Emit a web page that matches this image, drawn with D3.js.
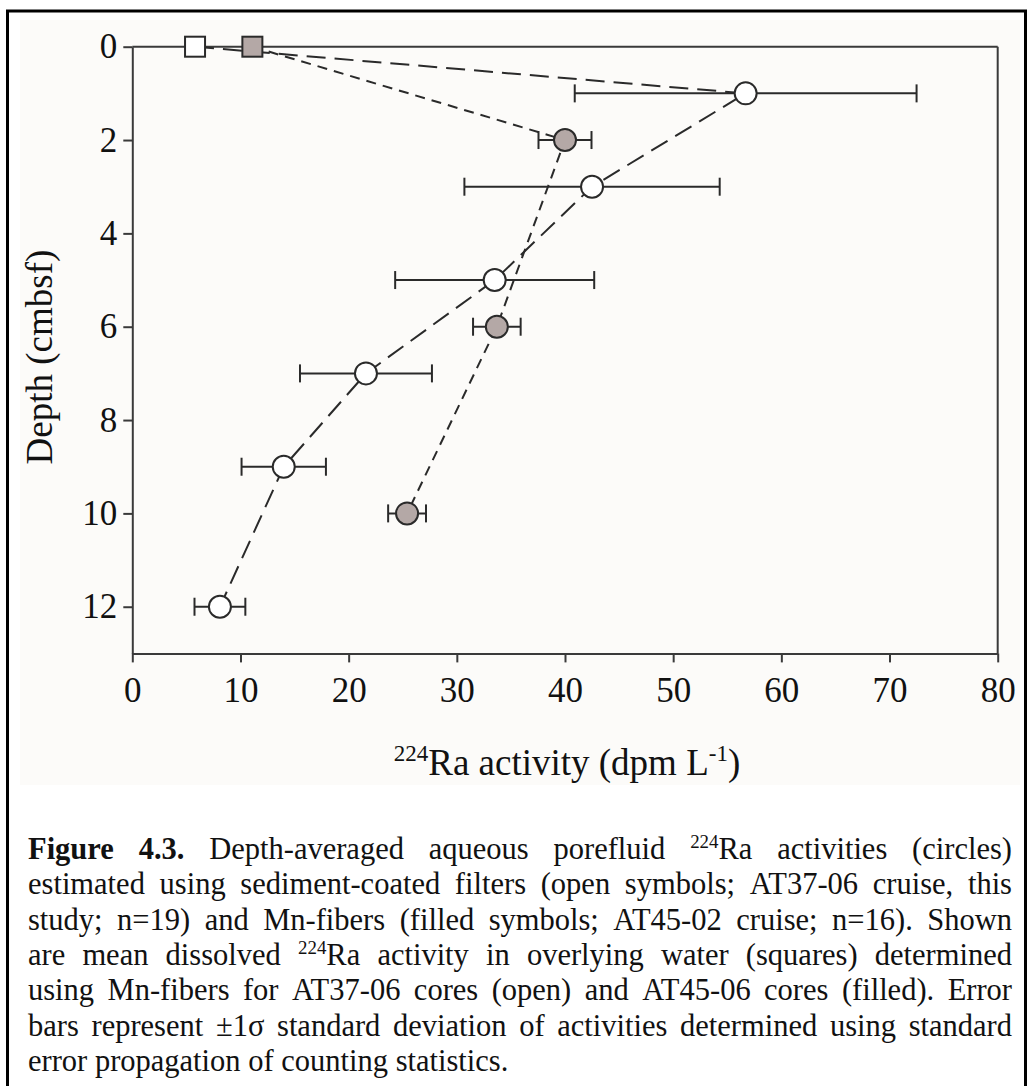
<!DOCTYPE html>
<html>
<head>
<meta charset="utf-8">
<script src="https://cdn.jsdelivr.net/npm/d3@7"></script>
<style>
  body { margin: 0; background: #fff; }
  svg { display: block; }
  text { font-family: "Liberation Serif", "Times New Roman", serif; fill: #111; }
</style>
</head>
<body>
<svg id="fig" width="1028" height="1086"></svg>
<script>
// Porefluid 224Ra activity profiles (dpm/L) against depth (cmbsf)
const openDepth = [1, 3, 5, 7, 9, 12];
const openActivity = [56.7, 42.5, 33.5, 21.6, 14.0, 8.1];
const openSigma = [15.8, 11.8, 9.2, 6.1, 3.9, 2.35];

const filledDepth = [2, 6, 10];
const filledActivity = [40.0, 33.7, 25.4];
const filledSigma = [2.45, 2.2, 1.75];

// Overlying-water means (plotted at depth 0 as squares)
const overlyingOpen = 5.8;
const overlyingFilled = 11.1;

const xTicks = [0, 10, 20, 30, 40, 50, 60, 70, 80];
const yTicks = [0, 2, 4, 6, 8, 10, 12];

const captionLines = [
  "!Figure !4.3. Depth-averaged aqueous porefluid ^224^Ra activities (circles)",
  "estimated using sediment-coated filters (open symbols; AT37-06 cruise, this",
  "study; n=19) and Mn-fibers (filled symbols; AT45-02 cruise; n=16). Shown",
  "are mean dissolved ^224^Ra activity in overlying water (squares) determined",
  "using Mn-fibers for AT37-06 cores (open) and AT45-06 cores (filled). Error",
  "bars represent ±1σ standard deviation of activities determined using standard",
  "error propagation of counting statistics."
];

const svg = d3.select("#fig");

// page frame and faint plot panel
svg.append("rect").attr("x", 20).attr("y", 20).attr("width", 1000).attr("height", 765)
  .attr("fill", "#fcfbf9");
svg.append("rect").attr("x", 7.5).attr("y", 11).attr("width", 1018).attr("height", 1100)
  .attr("fill", "none").attr("stroke", "#000").attr("stroke-width", 3);

const x = d3.scaleLinear().domain([0, 80]).range([132.3, 997.7]);
const y = d3.scaleLinear().domain([0, 13]).range([46.7, 653.4]);

const axisColor = "#3a3a3a";

// frame: top and right edges
const g = svg.append("g");
g.append("line").attr("x1", x(0)).attr("x2", x(80)).attr("y1", y(0)).attr("y2", y(0))
  .attr("stroke", axisColor).attr("stroke-width", 2);
g.append("line").attr("x1", x(80)).attr("x2", x(80)).attr("y1", y(0)).attr("y2", y(13))
  .attr("stroke", axisColor).attr("stroke-width", 2);

const yAxis = g.append("g").attr("transform", `translate(${x(0)},0)`)
  .call(d3.axisLeft(y).tickValues(yTicks).tickSize(9).tickSizeOuter(0).tickPadding(6));
const xAxis = g.append("g").attr("transform", `translate(0,${y(13)})`)
  .call(d3.axisBottom(x).tickValues(xTicks).tickSize(9).tickSizeOuter(0).tickPadding(15));

[xAxis, yAxis].forEach(a => {
  a.select(".domain").attr("stroke", axisColor).attr("stroke-width", 2);
  a.selectAll(".tick line").attr("stroke", axisColor).attr("stroke-width", 2);
  a.selectAll(".tick text").attr("font-size", 35).attr("fill", "#111")
    .style("font-family", '"Liberation Serif", serif');
});

// axis titles
const xt = svg.append("text").attr("x", 567).attr("y", 775)
  .attr("text-anchor", "middle").attr("font-size", 37);
xt.append("tspan").attr("font-size", 23).attr("dy", -14).text("224");
xt.append("tspan").attr("dy", 14).text("Ra activity (dpm L");
xt.append("tspan").attr("font-size", 23).attr("dy", -14).text("-1");
xt.append("tspan").attr("dy", 14).text(")");

svg.append("text").attr("transform", "translate(52,357) rotate(-90)")
  .attr("text-anchor", "middle").attr("font-size", 37).text("Depth (cmbsf)");

// series
const openPts = [{ a: overlyingOpen, d: 0 }].concat(openDepth.map((d, i) => ({ a: openActivity[i], d })));
const filledPts = [{ a: overlyingFilled, d: 0 }].concat(filledDepth.map((d, i) => ({ a: filledActivity[i], d })));

const line = d3.line().x(p => x(p.a)).y(p => y(p.d));
const ink = "#2a2a2a";

function errorBars(depths, acts, sig) {
  const eb = svg.append("g").attr("stroke", ink).attr("stroke-width", 2);
  depths.forEach((d, i) => {
    const lo = x(acts[i] - sig[i]), hi = x(acts[i] + sig[i]), yy = y(d);
    eb.append("line").attr("x1", lo).attr("x2", hi).attr("y1", yy).attr("y2", yy);
    [lo, hi].forEach(cx => eb.append("line").attr("x1", cx).attr("x2", cx)
      .attr("y1", yy - 9).attr("y2", yy + 9));
  });
}
errorBars(openDepth, openActivity, openSigma);
errorBars(filledDepth, filledActivity, filledSigma);

svg.append("path").datum(openPts).attr("d", line).attr("fill", "none")
  .attr("stroke", ink).attr("stroke-width", 2).attr("stroke-dasharray", "19,9");
svg.append("path").datum(filledPts).attr("d", line).attr("fill", "none")
  .attr("stroke", ink).attr("stroke-width", 2).attr("stroke-dasharray", "10,7");

const grey = "#b4a8a6";
svg.append("g").selectAll("circle").data(openDepth).join("circle")
  .attr("cx", (d, i) => x(openActivity[i])).attr("cy", d => y(d)).attr("r", 11)
  .attr("fill", "#fff").attr("stroke", ink).attr("stroke-width", 2);
svg.append("g").selectAll("circle").data(filledDepth).join("circle")
  .attr("cx", (d, i) => x(filledActivity[i])).attr("cy", d => y(d)).attr("r", 11)
  .attr("fill", grey).attr("stroke", ink).attr("stroke-width", 2);

[[overlyingOpen, "#fff"], [overlyingFilled, grey]].forEach(([v, f]) => {
  svg.append("rect").attr("x", x(v) - 10).attr("y", y(0) - 10)
    .attr("width", 20).attr("height", 20)
    .attr("fill", f).attr("stroke", ink).attr("stroke-width", 2);
});

// caption, justified between left and right margins
const capX0 = 28, capX1 = 1012, capY0 = 859, capLead = 35.3, capSize = 30.5;
captionLines.forEach((ln, li) => {
  const words = ln.split(" ");
  const nodes = words.map(w => {
    const bold = w.startsWith("!");
    const body = bold ? w.slice(1) : w;
    const t = svg.append("text").attr("y", capY0 + li * capLead)
      .attr("font-size", capSize).attr("font-weight", bold ? "bold" : "normal");
    body.split(/\^/).forEach((seg, k) => {
      if (!seg) return;
      if (k % 2 === 1) {
        t.append("tspan").attr("font-size", capSize * 0.62).attr("dy", -11).text(seg);
      } else {
        t.append("tspan").attr("dy", k > 0 ? 11 : 0).text(seg);
      }
    });
    return t;
  });
  const widths = nodes.map(t => t.node().getComputedTextLength());
  const total = d3.sum(widths);
  const last = li === captionLines.length - 1;
  const gap = last ? capSize * 0.25 : (capX1 - capX0 - total) / (words.length - 1);
  let cx = capX0;
  nodes.forEach((t, i) => { t.attr("x", cx); cx += widths[i] + gap; });
});
</script>
</body>
</html>
